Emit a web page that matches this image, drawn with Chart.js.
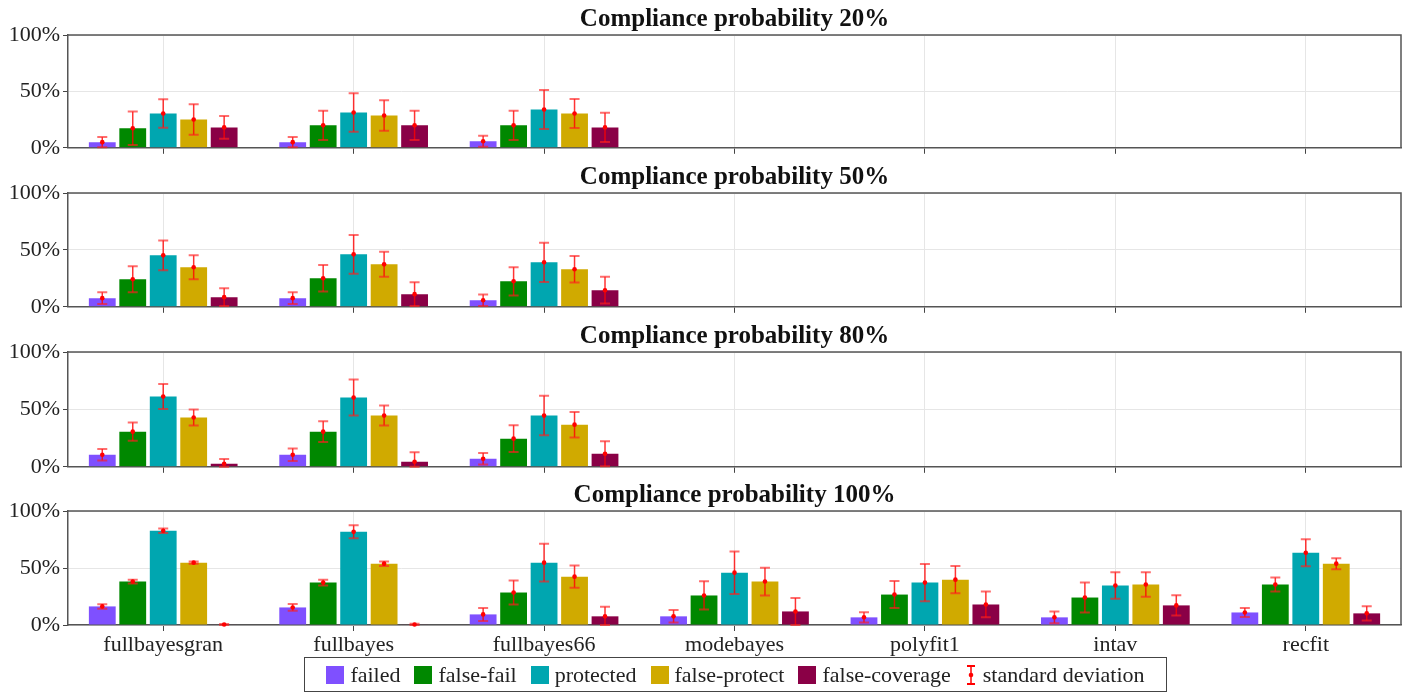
<!DOCTYPE html>
<html>
<head>
<meta charset="utf-8">
<script src="https://cdn.jsdelivr.net/npm/chart.js@4"></script>
<style>
  body { margin: 0; background: #fff; width: 1406px; height: 694px; overflow: hidden; position: relative; }
  .panel { position: absolute; left: 0; width: 1406px; }
  #legend {
    position: absolute; left: 304px; top: 657px; width: 863px; height: 35px;
    border: 1.5px solid #444; display: flex; align-items: center; justify-content: center;
    font-family: "Liberation Serif", serif; font-size: 22px; color: #222; box-sizing: border-box;
  }
  #legend .item { display: flex; align-items: center; margin: 0 7px; }
  #legend .sw { width: 18px; height: 18px; margin-right: 6px; }
</style>
</head>
<body>
<div class="panel" style="top:0px;height:164px"><canvas id="c20"></canvas></div>
<div class="panel" style="top:158px;height:165px"><canvas id="c50"></canvas></div>
<div class="panel" style="top:317px;height:166px"><canvas id="c80"></canvas></div>
<div class="panel" style="top:476px;height:184px"><canvas id="c100"></canvas></div>
<div id="legend"></div>
<script>
// categories and series
const categories = ['fullbayesgran', 'fullbayes', 'fullbayes66', 'modebayes', 'polyfit1', 'intav', 'recfit']
const seriesNames = ['failed', 'false-fail', 'protected', 'false-protect', 'false-coverage']
const seriesColors = ['#7f50ff', '#008800', '#00a6b0', '#d0aa00', '#8a0046']
const panelTitles = ['Compliance probability 20%', 'Compliance probability 50%', 'Compliance probability 80%', 'Compliance probability 100%']

// means (%) per series, one row per series
const mean20 = [
  [5.0, 5.0, 5.8, null, null, null, null],
  [17.3, 19.9, 19.9, null, null, null, null],
  [30.4, 31.3, 33.9, null, null, null, null],
  [25.1, 28.7, 30.4, null, null, null, null],
  [18.1, 19.9, 18.1, null, null, null, null]
]
const std20 = [
  [4.5, 4.5, 4.8, null, null, null, null],
  [14.8, 13.0, 12.9, null, null, null, null],
  [12.6, 17.0, 17.3, null, null, null, null],
  [13.6, 13.5, 12.9, null, null, null, null],
  [10.0, 13.0, 13.0, null, null, null, null]
]
const mean50 = [
  [7.6, 7.6, 5.8, null, null, null, null],
  [24.2, 25.1, 22.4, null, null, null, null],
  [45.2, 46.1, 39.1, null, null, null, null],
  [34.7, 37.3, 33.0, null, null, null, null],
  [8.5, 11.1, 14.6, null, null, null, null]
]
const std50 = [
  [5.1, 5.1, 5.0, null, null, null, null],
  [11.4, 11.7, 12.4, null, null, null, null],
  [13.1, 17.0, 17.2, null, null, null, null],
  [10.5, 11.0, 11.7, null, null, null, null],
  [7.7, 10.5, 11.8, null, null, null, null]
]
const mean80 = [
  [10.5, 10.5, 7.0, null, null, null, null],
  [30.6, 30.6, 24.5, null, null, null, null],
  [61.2, 60.3, 44.6, null, null, null, null],
  [42.9, 44.6, 36.7, null, null, null, null],
  [2.6, 4.4, 11.4, null, null, null, null]
]
const std80 = [
  [5.0, 5.5, 5.1, null, null, null, null],
  [8.0, 9.0, 11.7, null, null, null, null],
  [10.9, 15.7, 17.2, null, null, null, null],
  [7.0, 8.7, 11.1, null, null, null, null],
  [4.1, 8.2, 10.9, null, null, null, null]
]
const mean100 = [
  [16.3, 15.4, 9.3, 7.6, 6.7, 6.7, 11.0],
  [38.1, 37.2, 28.5, 25.9, 26.7, 24.1, 35.5],
  [82.6, 81.7, 54.7, 45.9, 37.2, 34.6, 63.4],
  [54.7, 53.8, 42.4, 38.1, 39.8, 35.5, 53.8],
  [0.4, 0.5, 7.6, 11.9, 18.0, 17.2, 10.2]
]
const std100 = [
  [2.0, 3.0, 5.7, 5.5, 4.5, 5.1, 3.9],
  [1.7, 2.6, 10.6, 12.4, 11.8, 13.1, 6.1],
  [2.0, 5.7, 16.6, 18.6, 16.3, 11.6, 11.9],
  [1.0, 2.0, 9.7, 12.2, 11.9, 10.8, 4.8],
  [0.5, 0.5, 8.4, 11.8, 11.3, 8.9, 6.3]
]

const serif = '"Liberation Serif", serif'

// error bars drawn through the y scale
const errorBars = {
  id: 'errorBars',
  afterDatasetsDraw(chart) {
    const ctx = chart.ctx
    const yScale = chart.scales.y
    chart.data.datasets.forEach((ds, i) => {
      const meta = chart.getDatasetMeta(i)
      meta.data.forEach((bar, j) => {
        const v = ds.data[j]
        const e = ds.errors[j]
        if (v == null || e == null) return
        const x = bar.x
        const yTop = yScale.getPixelForValue(v + e)
        const yBot = yScale.getPixelForValue(Math.max(v - e, 0))
        const yMid = yScale.getPixelForValue(v)
        ctx.save()
        ctx.strokeStyle = 'rgba(255,0,0,0.8)'
        ctx.lineWidth = 1.5
        ctx.beginPath()
        ctx.moveTo(x, yTop); ctx.lineTo(x, yBot)
        ctx.stroke()
        ctx.strokeStyle = 'rgba(255,30,30,0.65)'
        ctx.lineWidth = 2
        ctx.beginPath()
        ctx.moveTo(x - 5, yTop); ctx.lineTo(x + 5, yTop)
        ctx.moveTo(x - 5, yBot); ctx.lineTo(x + 5, yBot)
        ctx.stroke()
        ctx.fillStyle = '#ff0000'
        ctx.beginPath()
        ctx.arc(x, yMid, 2.3, 0, Math.PI * 2)
        ctx.fill()
        ctx.restore()
      })
    })
  }
}

// top and right side of the frame
const frame = {
  id: 'frame',
  afterDraw(chart) {
    const a = chart.chartArea
    const ctx = chart.ctx
    ctx.save()
    ctx.strokeStyle = '#555'
    ctx.lineWidth = 1.5
    ctx.beginPath()
    ctx.moveTo(a.left, a.top); ctx.lineTo(a.right, a.top); ctx.lineTo(a.right, a.bottom)
    ctx.stroke()
    ctx.restore()
  }
}

function makePanel(id, title, means, stds, showLabels) {
  const datasets = seriesNames.map((name, k) => ({
    label: name,
    data: means[k],
    errors: stds[k],
    backgroundColor: seriesColors[k],
    categoryPercentage: 0.8,
    barPercentage: 0.88
  }))
  return new Chart(document.getElementById(id), {
    type: 'bar',
    data: { labels: categories, datasets: datasets },
    options: {
      responsive: true,
      maintainAspectRatio: false,
      animation: false,
      layout: { padding: { left: 0, right: 5, top: 0, bottom: 0 } },
      plugins: {
        legend: { display: false },
        tooltip: { enabled: false },
        title: {
          display: true,
          fullSize: false,
          text: title,
          color: '#111',
          font: { family: serif, size: 25, weight: 'bold' },
          padding: { top: 5, bottom: 0 }
        }
      },
      scales: {
        x: {
          grid: { offset: false, color: '#e6e6e6', tickColor: '#444', tickLength: 6 },
          border: { color: '#555', width: 1.5 },
          ticks: { display: showLabels, color: '#222', font: { family: serif, size: 22 }, padding: 1, maxRotation: 0 },
          afterFit: s => { s.height = showLabels ? 35 : 8 }
        },
        y: {
          min: 0, max: 100,
          grid: { color: '#e6e6e6', tickColor: '#444', tickLength: 5 },
          border: { color: '#555', width: 1.5 },
          ticks: { stepSize: 50, color: '#222', font: { family: serif, size: 22 }, padding: 3, callback: v => v + '%' },
          afterFit: s => { s.width = 68 }
        }
      }
    },
    plugins: [errorBars, frame]
  })
}

makePanel('c20', panelTitles[0], mean20, std20, false)
makePanel('c50', panelTitles[1], mean50, std50, false)
makePanel('c80', panelTitles[2], mean80, std80, false)
makePanel('c100', panelTitles[3], mean100, std100, true)

// legend
const legend = document.getElementById('legend')
seriesNames.forEach((name, k) => {
  const it = document.createElement('div')
  it.className = 'item'
  it.innerHTML = `<span class="sw" style="background:${seriesColors[k]}"></span>${name}`
  legend.appendChild(it)
})
const sd = document.createElement('div')
sd.className = 'item'
sd.innerHTML = `<svg width="12" height="24" style="margin-right:6px"><line x1="6" y1="3" x2="6" y2="21" stroke="red" stroke-width="1.5"/><line x1="2" y1="3" x2="10" y2="3" stroke="red" stroke-width="2"/><line x1="2" y1="21" x2="10" y2="21" stroke="red" stroke-width="2"/><circle cx="6" cy="12" r="2.3" fill="red"/></svg>standard deviation`
legend.appendChild(sd)
</script>
</body>
</html>
